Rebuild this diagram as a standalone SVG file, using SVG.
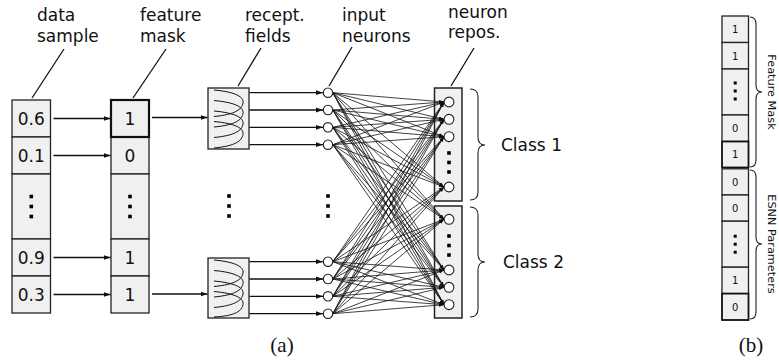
<svg xmlns="http://www.w3.org/2000/svg" width="779" height="360" viewBox="0 0 779 360">
<defs>
<marker id="arr" markerUnits="userSpaceOnUse" markerWidth="8" markerHeight="6" refX="7" refY="3" orient="auto">
<path d="M0,0.6 L7,3 L0,5.4 z" fill="#111"/>
</marker>
<marker id="arrs" markerUnits="userSpaceOnUse" markerWidth="6" markerHeight="5" refX="5" refY="2" orient="auto">
<path d="M0,0.3 L5,2 L0,3.7 z" fill="#111"/>
</marker>
</defs>
<style>
.cell{fill:#f0f0f0;stroke:#222;stroke-width:1.3}
.bold{fill:#f0f0f0;stroke:#111;stroke-width:2.2}
.t{font-family:"DejaVu Sans",sans-serif;font-size:17px;fill:#111}
.v{font-family:"DejaVu Sans",sans-serif;font-size:17px;fill:#111;text-anchor:middle}
.s{font-family:"DejaVu Sans",sans-serif;font-size:10px;fill:#111;text-anchor:middle}
.r{font-family:"DejaVu Sans",sans-serif;font-size:11.3px;fill:#111;text-anchor:middle}
.cap{font-family:"Liberation Serif",serif;font-size:21px;fill:#111;text-anchor:middle}
.ld{stroke:#111;stroke-width:1.3;fill:none}
.ar{stroke:#111;stroke-width:1.3;fill:none;marker-end:url(#arr)}
.net line{stroke:#111;stroke-width:0.8;marker-end:url(#arrs)}
.neu{fill:#fff;stroke:#222;stroke-width:1.1}
.dot{fill:#000}
.br{stroke:#222;stroke-width:1.1;fill:none}
.rf{stroke:#111;stroke-width:1;fill:none}
</style>

<g id="labels">
<text class="t" x="37" y="20.5">data</text>
<text class="t" x="37" y="41.5">sample</text>
<text class="t" x="140" y="20.5">feature</text>
<text class="t" x="140" y="41.5">mask</text>
<text class="t" x="245" y="20.5">recept.</text>
<text class="t" x="245" y="41.5">fields</text>
<text class="t" x="342" y="20.5">input</text>
<text class="t" x="342" y="41.5">neurons</text>
<text class="t" x="448" y="17.5">neuron</text>
<text class="t" x="448" y="38">repos.</text>
<line class="ld" x1="32" y1="98" x2="64" y2="49"/>
<line class="ld" x1="133" y1="98" x2="166" y2="49"/>
<line class="ld" x1="238" y1="86" x2="261" y2="48"/>
<line class="ld" x1="329" y1="86" x2="352" y2="47"/>
<line class="ld" x1="451" y1="86" x2="474" y2="48"/>
</g>

<g id="data-sample">
<rect class="cell" x="12" y="100" width="38.5" height="37"/>
<rect class="cell" x="12" y="137" width="38.5" height="37"/>
<rect class="cell" x="12" y="174" width="38.5" height="65"/>
<rect class="cell" x="12" y="239" width="38.5" height="37"/>
<rect class="cell" x="12" y="276" width="38.5" height="37"/>
<text class="v" x="31.3" y="124.7">0.6</text>
<text class="v" x="31.3" y="161.7">0.1</text>
<rect class="dot" x="29.5" y="194.7" width="3.6" height="3.6"/>
<rect class="dot" x="29.5" y="204.7" width="3.6" height="3.6"/>
<rect class="dot" x="29.5" y="214.7" width="3.6" height="3.6"/>
<text class="v" x="31.3" y="263.7">0.9</text>
<text class="v" x="31.3" y="300.7">0.3</text>
</g>

<g id="feature-mask">
<rect class="cell" x="111" y="137" width="38" height="37"/>
<rect class="cell" x="111" y="174" width="38" height="65"/>
<rect class="cell" x="111" y="239" width="38" height="37"/>
<rect class="cell" x="111" y="276" width="38" height="37"/>
<rect class="bold" x="111" y="100" width="38" height="37"/>
<text class="v" x="130" y="124.7">1</text>
<text class="v" x="130" y="161.7">0</text>
<rect class="dot" x="128.2" y="194.7" width="3.6" height="3.6"/>
<rect class="dot" x="128.2" y="204.7" width="3.6" height="3.6"/>
<rect class="dot" x="128.2" y="214.7" width="3.6" height="3.6"/>
<text class="v" x="130" y="263.7">1</text>
<text class="v" x="130" y="300.7">1</text>
</g>

<g id="recept-fields">
<rect class="cell" x="208" y="88" width="41" height="61"/>
<path class="rf" d="M214,90 C236,92 244,97 243,103 S236,114.5 214,116.5"/>
<path class="rf" d="M214,100.5 C236,102.5 244,107.5 243,113.5 S236,125 214,127"/>
<path class="rf" d="M214,111 C236,113 244,118 243,124 S236,135.5 214,137.5"/>
<path class="rf" d="M214,121.5 C236,123.5 244,128.5 243,134.5 S236,146 214,148"/>
<rect class="cell" x="208" y="258" width="41" height="60"/>
<path class="rf" d="M214,260 C236,262 244,267 243,273 S236,284.5 214,286.5"/>
<path class="rf" d="M214,270.5 C236,272.5 244,277.5 243,283.5 S236,295 214,297"/>
<path class="rf" d="M214,281 C236,283 244,288 243,294 S236,305.5 214,307.5"/>
<path class="rf" d="M214,291.5 C236,293.5 244,298.5 243,304.5 S236,316 214,317"/>
<rect class="dot" x="227.2" y="194.2" width="3.6" height="3.6"/>
<rect class="dot" x="227.2" y="204.2" width="3.6" height="3.6"/>
<rect class="dot" x="227.2" y="214.2" width="3.6" height="3.6"/>
</g>

<g id="neuron-repos">
<rect class="cell" x="434.5" y="88" width="27.5" height="113" style="stroke-width:1.5"/>
<rect class="cell" x="434.5" y="206" width="27.5" height="112" style="stroke-width:1.5"/>
<rect class="dot" x="447.2" y="151.2" width="3.6" height="3.6"/>
<rect class="dot" x="447.2" y="160.7" width="3.6" height="3.6"/>
<rect class="dot" x="447.2" y="170.2" width="3.6" height="3.6"/>
<rect class="dot" x="447.2" y="234.2" width="3.6" height="3.6"/>
<rect class="dot" x="447.2" y="243.7" width="3.6" height="3.6"/>
<rect class="dot" x="447.2" y="253.2" width="3.6" height="3.6"/>
</g>

<g id="connectors">
<line class="ar" x1="53.5" y1="118.5" x2="110.5" y2="118.5"/>
<line class="ar" x1="53.5" y1="155.5" x2="110.5" y2="155.5"/>
<line class="ar" x1="53.5" y1="257.5" x2="110.5" y2="257.5"/>
<line class="ar" x1="53.5" y1="294.5" x2="110.5" y2="294.5"/>
<line class="ar" x1="152" y1="117.5" x2="207.5" y2="117.5"/>
<line class="ar" x1="152" y1="294" x2="207.5" y2="294"/>
<line class="ar" x1="249.5" y1="92.7" x2="323" y2="92.7"/>
<line class="ar" x1="249.5" y1="110" x2="323" y2="110"/>
<line class="ar" x1="249.5" y1="127.3" x2="323" y2="127.3"/>
<line class="ar" x1="249.5" y1="144.7" x2="323" y2="144.7"/>
<line class="ar" x1="249.5" y1="261.7" x2="323" y2="261.7"/>
<line class="ar" x1="249.5" y1="279" x2="323" y2="279"/>
<line class="ar" x1="249.5" y1="296.3" x2="323" y2="296.3"/>
<line class="ar" x1="249.5" y1="313.7" x2="323" y2="313.7"/>
<g class="net">
<line x1="332.8" y1="92.7" x2="444" y2="102"/><line x1="332.8" y1="92.7" x2="444" y2="119.3"/><line x1="332.8" y1="92.7" x2="444" y2="136.7"/><line x1="332.8" y1="92.7" x2="444" y2="187"/><line x1="332.8" y1="92.7" x2="444" y2="219.3"/><line x1="332.8" y1="92.7" x2="444" y2="270"/><line x1="332.8" y1="92.7" x2="444" y2="287.3"/><line x1="332.8" y1="92.7" x2="444" y2="304.7"/>
<line x1="332.8" y1="110" x2="444" y2="102"/><line x1="332.8" y1="110" x2="444" y2="119.3"/><line x1="332.8" y1="110" x2="444" y2="136.7"/><line x1="332.8" y1="110" x2="444" y2="187"/><line x1="332.8" y1="110" x2="444" y2="219.3"/><line x1="332.8" y1="110" x2="444" y2="270"/><line x1="332.8" y1="110" x2="444" y2="287.3"/><line x1="332.8" y1="110" x2="444" y2="304.7"/>
<line x1="332.8" y1="127.3" x2="444" y2="102"/><line x1="332.8" y1="127.3" x2="444" y2="119.3"/><line x1="332.8" y1="127.3" x2="444" y2="136.7"/><line x1="332.8" y1="127.3" x2="444" y2="187"/><line x1="332.8" y1="127.3" x2="444" y2="219.3"/><line x1="332.8" y1="127.3" x2="444" y2="270"/><line x1="332.8" y1="127.3" x2="444" y2="287.3"/><line x1="332.8" y1="127.3" x2="444" y2="304.7"/>
<line x1="332.8" y1="144.7" x2="444" y2="102"/><line x1="332.8" y1="144.7" x2="444" y2="119.3"/><line x1="332.8" y1="144.7" x2="444" y2="136.7"/><line x1="332.8" y1="144.7" x2="444" y2="187"/><line x1="332.8" y1="144.7" x2="444" y2="219.3"/><line x1="332.8" y1="144.7" x2="444" y2="270"/><line x1="332.8" y1="144.7" x2="444" y2="287.3"/><line x1="332.8" y1="144.7" x2="444" y2="304.7"/>
<line x1="332.8" y1="261.7" x2="444" y2="102"/><line x1="332.8" y1="261.7" x2="444" y2="119.3"/><line x1="332.8" y1="261.7" x2="444" y2="136.7"/><line x1="332.8" y1="261.7" x2="444" y2="187"/><line x1="332.8" y1="261.7" x2="444" y2="219.3"/><line x1="332.8" y1="261.7" x2="444" y2="270"/><line x1="332.8" y1="261.7" x2="444" y2="287.3"/><line x1="332.8" y1="261.7" x2="444" y2="304.7"/>
<line x1="332.8" y1="279" x2="444" y2="102"/><line x1="332.8" y1="279" x2="444" y2="119.3"/><line x1="332.8" y1="279" x2="444" y2="136.7"/><line x1="332.8" y1="279" x2="444" y2="187"/><line x1="332.8" y1="279" x2="444" y2="219.3"/><line x1="332.8" y1="279" x2="444" y2="270"/><line x1="332.8" y1="279" x2="444" y2="287.3"/><line x1="332.8" y1="279" x2="444" y2="304.7"/>
<line x1="332.8" y1="296.3" x2="444" y2="102"/><line x1="332.8" y1="296.3" x2="444" y2="119.3"/><line x1="332.8" y1="296.3" x2="444" y2="136.7"/><line x1="332.8" y1="296.3" x2="444" y2="187"/><line x1="332.8" y1="296.3" x2="444" y2="219.3"/><line x1="332.8" y1="296.3" x2="444" y2="270"/><line x1="332.8" y1="296.3" x2="444" y2="287.3"/><line x1="332.8" y1="296.3" x2="444" y2="304.7"/>
<line x1="332.8" y1="313.7" x2="444" y2="102"/><line x1="332.8" y1="313.7" x2="444" y2="119.3"/><line x1="332.8" y1="313.7" x2="444" y2="136.7"/><line x1="332.8" y1="313.7" x2="444" y2="187"/><line x1="332.8" y1="313.7" x2="444" y2="219.3"/><line x1="332.8" y1="313.7" x2="444" y2="270"/><line x1="332.8" y1="313.7" x2="444" y2="287.3"/><line x1="332.8" y1="313.7" x2="444" y2="304.7"/>
</g>
</g>

<g id="input-neurons">
<circle class="neu" cx="328" cy="92.7" r="4.7"/>
<circle class="neu" cx="328" cy="110" r="4.7"/>
<circle class="neu" cx="328" cy="127.3" r="4.7"/>
<circle class="neu" cx="328" cy="144.7" r="4.7"/>
<circle class="neu" cx="328" cy="261.7" r="4.7"/>
<circle class="neu" cx="328" cy="279" r="4.7"/>
<circle class="neu" cx="328" cy="296.3" r="4.7"/>
<circle class="neu" cx="328" cy="313.7" r="4.7"/>
<rect class="dot" x="326.2" y="194.2" width="3.6" height="3.6"/>
<rect class="dot" x="326.2" y="204.2" width="3.6" height="3.6"/>
<rect class="dot" x="326.2" y="214.2" width="3.6" height="3.6"/>
</g>

<g id="output-neurons">
<circle class="neu" cx="449" cy="102" r="4.9"/>
<circle class="neu" cx="449" cy="119.3" r="4.9"/>
<circle class="neu" cx="449" cy="136.7" r="4.9"/>
<circle class="neu" cx="449" cy="187" r="4.9"/>
<circle class="neu" cx="449" cy="219.3" r="4.9"/>
<circle class="neu" cx="449" cy="270" r="4.9"/>
<circle class="neu" cx="449" cy="287.3" r="4.9"/>
<circle class="neu" cx="449" cy="304.7" r="4.9"/>
</g>

<g id="classes">
<path class="br" d="M470,89 Q478,89 478,97 L478,137 Q478,145 485,145 Q478,145 478,153 L478,192 Q478,200 470,200"/>
<path class="br" d="M470,207 Q478,207 478,215 L478,254 Q478,262 485,262 Q478,262 478,270 L478,309 Q478,317 470,317"/>
<text class="t" x="501" y="151">Class 1</text>
<text class="t" x="503" y="268">Class 2</text>
</g>

<g id="panel-b">
<rect class="cell" x="722" y="16" width="26.5" height="26.5"/>
<rect class="cell" x="722" y="42.5" width="26.5" height="26.5"/>
<rect class="cell" x="722" y="69" width="26.5" height="46"/>
<rect class="cell" x="722" y="115" width="26.5" height="26.5"/>
<rect class="bold" x="722" y="141.5" width="26.5" height="26" style="stroke-width:1.8"/>
<rect class="cell" x="722" y="168.8" width="26.5" height="26.2"/>
<rect class="cell" x="722" y="195" width="26.5" height="26.2"/>
<rect class="cell" x="722" y="221.2" width="26.5" height="46"/>
<rect class="cell" x="722" y="267.2" width="26.5" height="26.4"/>
<rect class="bold" x="722" y="293.6" width="26.5" height="26.4" style="stroke-width:1.8"/>
<text class="s" x="735.2" y="33">1</text>
<text class="s" x="735.2" y="59.5">1</text>
<rect class="dot" x="733.7" y="81.5" width="3" height="3"/>
<rect class="dot" x="733.7" y="89.5" width="3" height="3"/>
<rect class="dot" x="733.7" y="97.5" width="3" height="3"/>
<text class="s" x="735.2" y="132">0</text>
<text class="s" x="735.2" y="158.3">1</text>
<text class="s" x="735.2" y="185.5">0</text>
<text class="s" x="735.2" y="211.7">0</text>
<rect class="dot" x="733.7" y="234.7" width="3" height="3"/>
<rect class="dot" x="733.7" y="242.7" width="3" height="3"/>
<rect class="dot" x="733.7" y="250.7" width="3" height="3"/>
<text class="s" x="735.2" y="284">1</text>
<text class="s" x="735.2" y="310.5">0</text>
<path class="br" d="M750,17 Q756,17 756,24 L756,85 Q756,92 762,92 Q756,92 756,99 L756,160 Q756,167 750,167"/>
<path class="br" d="M750,170 Q756,170 756,177 L756,237 Q756,244 762,244 Q756,244 756,251 L756,312 Q756,319 750,319"/>
<text class="r" transform="translate(767.5,92) rotate(90)">Feature Mask</text>
<text class="r" transform="translate(767.5,244) rotate(90)">ESNN Parameters</text>
</g>

<g id="captions">
<text class="cap" x="282" y="352">(a)</text>
<text class="cap" x="751" y="352">(b)</text>
</g>
</svg>
